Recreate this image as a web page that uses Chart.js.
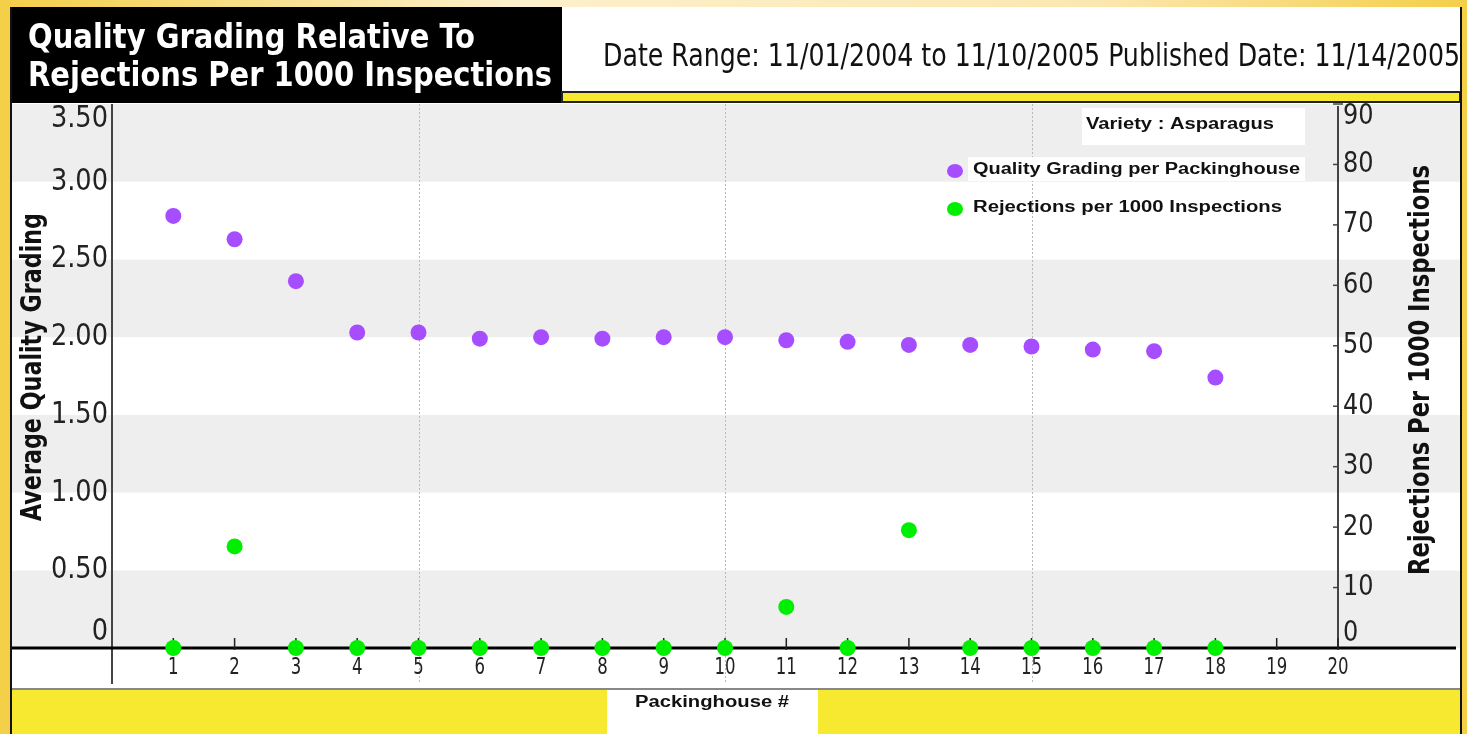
<!DOCTYPE html>
<html>
<head>
<meta charset="utf-8">
<script src="https://cdn.jsdelivr.net/npm/chart.js@4.4.1/dist/chart.umd.min.js"></script>
<style>
html, body { margin: 0; padding: 0; background: #f4cf48; }
#wrap { width: 1467px; height: 734px; position: relative; }
</style>
</head>
<body>
<div id="wrap"><canvas id="chart"></canvas></div>
<script>
// data
var packinghouses = [1, 2, 3, 4, 5, 6, 7, 8, 9, 10, 11, 12, 13, 14, 15, 16, 17, 18];
var qualityGrading = [2.78, 2.63, 2.36, 2.03, 2.03, 1.99, 2.00, 1.99, 2.00, 2.00, 1.98, 1.97, 1.95, 1.95, 1.94, 1.92, 1.91, 1.74];
var rejections = [0, 16.8, 0, 0, 0, 0, 0, 0, 0, 0, 6.8, 0, 19.5, 0, 0, 0, 0, 0];
var xTickLabels = [1, 2, 3, 4, 5, 6, 7, 8, 9, 10, 11, 12, 13, 14, 15, 16, 17, 18, 19, 20];
var dashedAt = [5, 10, 15];
var leftTicks = [0, 0.5, 1, 1.5, 2, 2.5, 3, 3.5];
var rightTicks = [0, 10, 20, 30, 40, 50, 60, 70, 80, 90];

var titleLines = ['Quality Grading Relative To', 'Rejections Per 1000 Inspections'];
var dateText = 'Date Range: 11/01/2004 to 11/10/2005 Published Date: 11/14/2005';
var varietyText = 'Variety : Asparagus';
var seriesNames = ['Quality Grading per Packinghouse', 'Rejections per 1000 Inspections'];
var leftTitle = 'Average Quality Grading';
var rightTitle = 'Rejections Per 1000 Inspections';
var xTitle = 'Packinghouse #';

var PURPLE = '#a64dff';
var GREEN = '#00ee00';
var GOLD = '#f4cf48';
var YELLOW = '#f6e930';
var NARROW = "'Liberation Sans Narrow', 'DejaVu Sans Condensed', 'Liberation Sans', sans-serif";
var BOLD = "'Liberation Sans', Arial, sans-serif";

function pts(ys) {
	return packinghouses.map(function (x, i) { return { x: x, y: ys[i] }; });
}

// draw text; width squeezes to an exact width, squeeze is a plain x factor
function txt(ctx, s, x, y, font, align, width, squeeze) {
	ctx.save();
	ctx.font = font;
	ctx.textBaseline = 'middle';
	ctx.textAlign = 'left';
	var w = ctx.measureText(s).width;
	var sx = width ? width / w : (squeeze || 1);
	var dw = w * sx;
	var left = align === 'right' ? x - dw : (align === 'center' ? x - dw / 2 : x);
	ctx.translate(left, y);
	ctx.scale(sx, 1);
	ctx.fillText(s, 0, 0);
	ctx.restore();
}

function clamp(v, a, b) { return Math.max(a, Math.min(b, v)); }

var framePlugin = {
	id: 'frame',
	beforeDraw: function (chart) {
		var ctx = chart.ctx;
		var area = chart.chartArea;
		var yL = chart.scales.y;
		var W = chart.width, H = chart.height;

		// gold surround with pale top edge
		ctx.fillStyle = GOLD;
		ctx.fillRect(0, 0, W, H);
		var g = ctx.createLinearGradient(0, 0, W, 0);
		g.addColorStop(0, GOLD);
		g.addColorStop(0.35, '#fcf0cc');
		g.addColorStop(0.75, '#fbe7b0');
		g.addColorStop(1, GOLD);
		ctx.fillStyle = g;
		ctx.fillRect(8, 0, W - 8, 7);

		// panel
		ctx.fillStyle = '#ffffff';
		ctx.fillRect(10, 7, 1452, H - 7);

		// alternating bands from the left scale
		for (var i = 0; i < leftTicks.length - 1; i++) {
			var y0 = yL.getPixelForValue(leftTicks[i]);
			var y1 = yL.getPixelForValue(leftTicks[i + 1]);
			ctx.fillStyle = (i % 2 === 0) ? '#eeeeee' : '#ffffff';
			ctx.fillRect(12, y1, 1448, y0 - y1);
		}

		// title box
		ctx.fillStyle = '#000000';
		ctx.fillRect(10, 7, 552, 96);
		ctx.fillStyle = '#ffffff';
		txt(ctx, titleLines[0], 28, 39, 'bold 34px ' + NARROW, 'left', 447);
		txt(ctx, titleLines[1], 28, 77, 'bold 34px ' + NARROW, 'left', 524);

		// date
		ctx.fillStyle = '#111111';
		txt(ctx, dateText, 603, 58, '32px ' + NARROW, 'left', 857);

		// yellow bar under header
		ctx.fillStyle = YELLOW;
		ctx.fillRect(562, 92, 898, 10);
		ctx.strokeStyle = '#222222';
		ctx.lineWidth = 2;
		ctx.strokeRect(562, 92, 898, 10);

		// bottom strip
		ctx.fillStyle = '#ffffff';
		ctx.fillRect(12, area.bottom, 1448, 689 - area.bottom);
		ctx.fillStyle = YELLOW;
		ctx.fillRect(12, 690, 1448, H - 690);
		ctx.fillStyle = '#ffffff';
		ctx.fillRect(607, 690, 211, H - 690);
		ctx.fillStyle = '#888888';
		ctx.fillRect(12, 688, 1448, 2);

		// frame edges
		ctx.fillStyle = '#111111';
		ctx.fillRect(10, 7, 2, H - 7);
		ctx.fillRect(1460, 7, 2, H - 7);
	},
	beforeDatasetsDraw: function (chart) {
		var ctx = chart.ctx;
		var area = chart.chartArea;
		var x = chart.scales.x, yL = chart.scales.y, yR = chart.scales.y1;

		// dashed verticals
		ctx.save();
		ctx.strokeStyle = '#b8b8b8';
		ctx.lineWidth = 1;
		ctx.setLineDash([2, 2]);
		dashedAt.forEach(function (v) {
			var px = Math.round(x.getPixelForValue(v)) + 0.5;
			ctx.beginPath();
			ctx.moveTo(px, area.top);
			ctx.lineTo(px, 684);
			ctx.stroke();
		});
		ctx.restore();

		// axis lines
		ctx.fillStyle = '#444444';
		ctx.fillRect(area.left - 1, area.top, 2, 684 - area.top);
		ctx.fillRect(area.right - 1, area.top + 2, 2, area.bottom - area.top - 2);
		ctx.fillStyle = '#000000';
		ctx.fillRect(12, area.bottom - 1.5, 1444, 3);

		// x ticks + labels
		ctx.fillStyle = '#222222';
		xTickLabels.forEach(function (v) {
			var px = x.getPixelForValue(v);
			ctx.fillRect(px - 0.75, area.bottom - 10, 1.5, 12);
			txt(ctx, String(v), px, 668, '23px ' + NARROW, 'center', 0, 0.8);
		});

		// left labels
		leftTicks.forEach(function (v) {
			var py = clamp(yL.getPixelForValue(v), area.top + 15, area.bottom - 16);
			var s = v === 0 ? '0' : v.toFixed(2);
			txt(ctx, s, area.left - 4, py, '31px ' + NARROW, 'right', 0, 0.92);
		});

		// right ticks + labels
		rightTicks.forEach(function (v) {
			var py = yR.getPixelForValue(v);
			ctx.fillStyle = '#444444';
			if (v > 0) {
				ctx.fillRect(area.right - 5, py - 0.75, v === 90 ? 10 : 5, 1.5);
			}
			ctx.fillStyle = '#222222';
			txt(ctx, String(v), area.right + 5, clamp(py, area.top + 12, area.bottom - 15), '29px ' + NARROW, 'left', 0, 0.92);
		});

		// axis titles
		ctx.fillStyle = '#111111';
		ctx.save();
		ctx.translate(33, 367);
		ctx.rotate(-Math.PI / 2);
		txt(ctx, leftTitle, 0, 0, 'bold 29px ' + NARROW, 'center', 308);
		ctx.restore();
		ctx.save();
		ctx.translate(1421, 370);
		ctx.rotate(-Math.PI / 2);
		txt(ctx, rightTitle, 0, 0, 'bold 29px ' + NARROW, 'center', 410);
		ctx.restore();

		txt(ctx, xTitle, 712, 703, 'bold 16px ' + BOLD, 'center', 154);
	},
	afterDraw: function (chart) {
		var ctx = chart.ctx;
		// variety box and legend
		ctx.fillStyle = '#ffffff';
		ctx.fillRect(1082, 108, 223, 37);
		ctx.fillRect(968, 157, 337, 24);
		ctx.fillStyle = '#111111';
		txt(ctx, varietyText, 1086, 125, 'bold 16px ' + BOLD, 'left', 188);
		var colors = [PURPLE, GREEN];
		var ys = [170, 208];
		seriesNames.forEach(function (s, i) {
			ctx.fillStyle = colors[i];
			ctx.beginPath();
			ctx.ellipse(955, ys[i] + 1, 8, 7, 0, 0, Math.PI * 2);
			ctx.fill();
			ctx.fillStyle = '#111111';
			txt(ctx, s, 973, ys[i], 'bold 16px ' + BOLD, 'left', i === 0 ? 327 : 309);
		});
	}
};

new Chart(document.getElementById('chart'), {
	type: 'scatter',
	data: {
		datasets: [
			{
				label: seriesNames[0],
				data: pts(qualityGrading),
				yAxisID: 'y',
				backgroundColor: PURPLE,
				borderColor: PURPLE,
				pointRadius: 8,
				pointHoverRadius: 8,
				borderWidth: 0,
				clip: false
			},
			{
				label: seriesNames[1],
				data: pts(rejections),
				yAxisID: 'y1',
				backgroundColor: GREEN,
				borderColor: GREEN,
				pointRadius: 8,
				pointHoverRadius: 8,
				borderWidth: 0,
				clip: false
			}
		]
	},
	options: {
		responsive: true,
		maintainAspectRatio: false,
		animation: false,
		events: [],
		layout: { padding: { top: 104, left: 0, right: 0, bottom: 0 } },
		plugins: {
			legend: { display: false },
			tooltip: { enabled: false }
		},
		scales: {
			x: {
				type: 'linear',
				min: 0,
				max: 20,
				grid: { display: false },
				border: { display: false },
				ticks: { display: false, stepSize: 1 },
				afterFit: function (s) { s.height = 86; }
			},
			y: {
				position: 'left',
				min: 0,
				max: 3.5,
				grid: { display: false },
				border: { display: false },
				ticks: { display: false, stepSize: 0.5 },
				afterFit: function (s) { s.width = 112; }
			},
			y1: {
				position: 'right',
				min: 0,
				max: 90,
				grid: { display: false },
				border: { display: false },
				ticks: { display: false, stepSize: 10 },
				afterFit: function (s) { s.width = 129; }
			}
		}
	},
	plugins: [framePlugin]
});
</script>
</body>
</html>
